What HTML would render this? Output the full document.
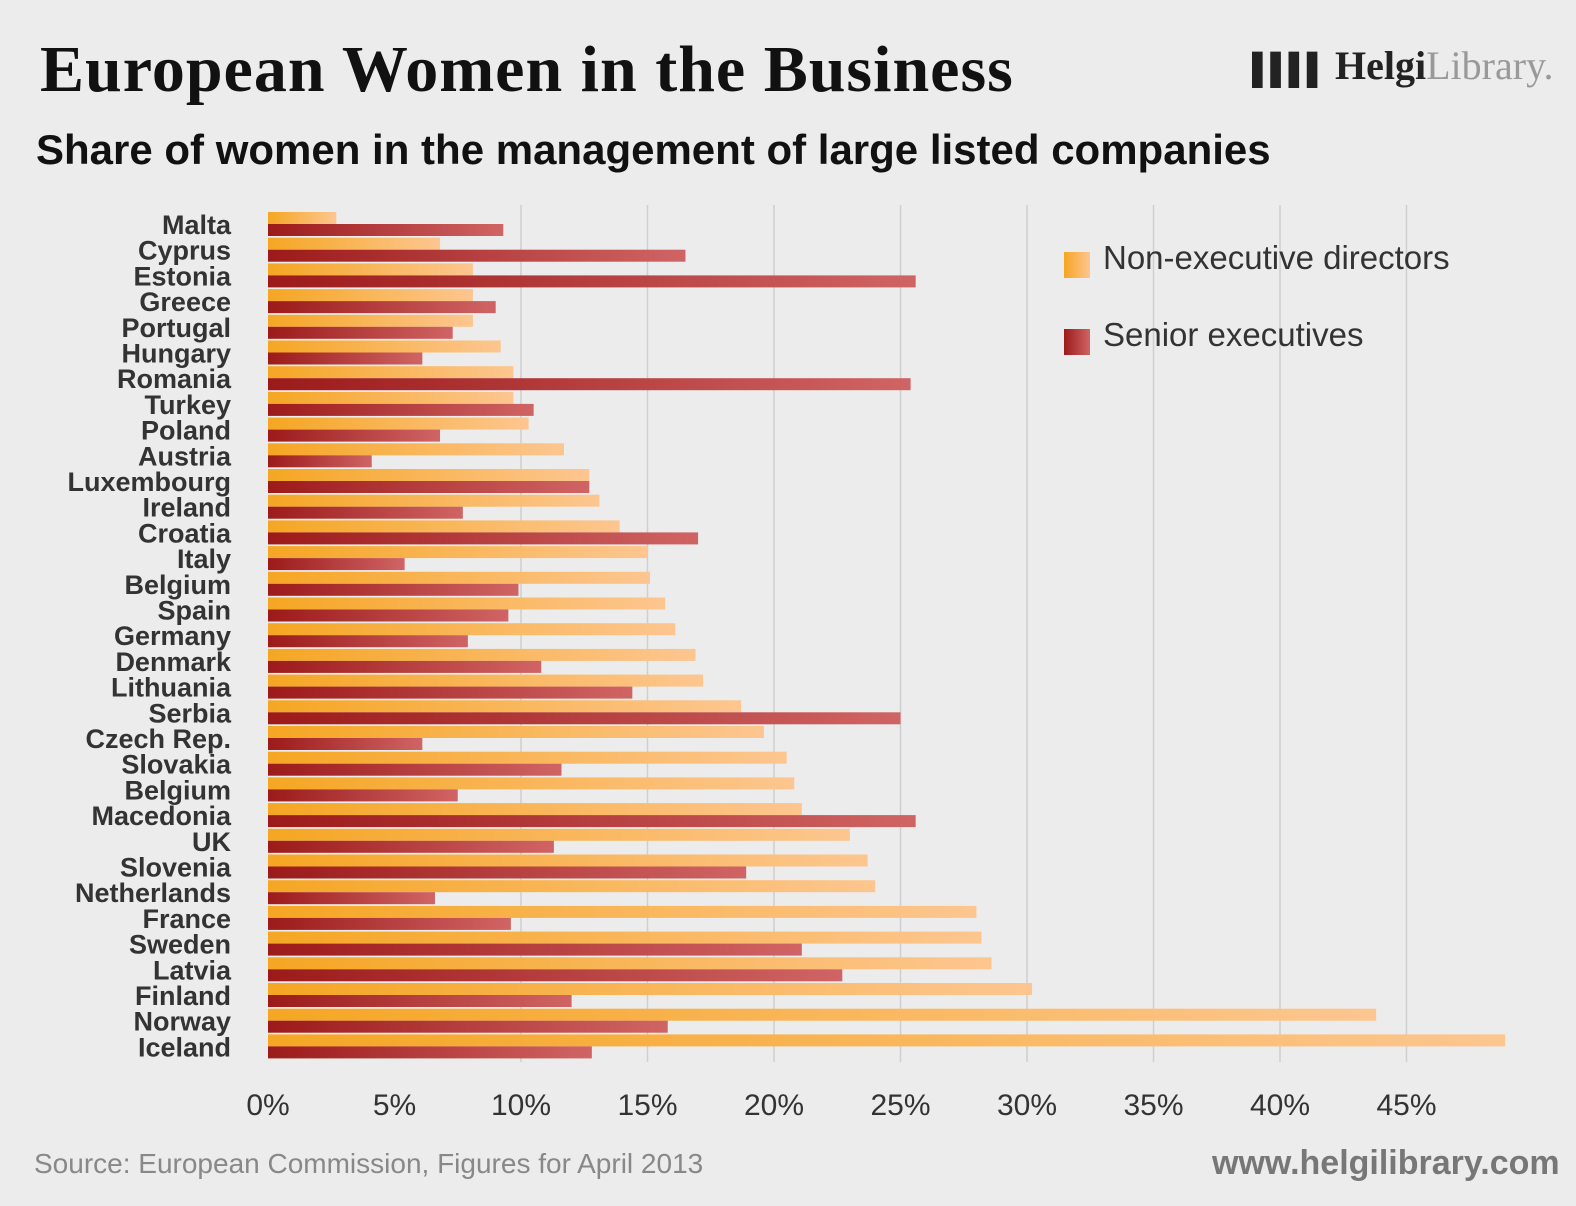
<!DOCTYPE html>
<html><head><meta charset="utf-8">
<style>
body{margin:0;background:#ececec;}
#root{position:relative;width:1576px;height:1206px;background:#ececec;overflow:hidden;font-family:"Liberation Sans",sans-serif;}
.t{position:absolute;white-space:nowrap;}
</style></head>
<body>
<div id="root">
<div class="t" style="left:40px;top:32px;font-family:'Liberation Serif',serif;font-weight:bold;font-size:66px;letter-spacing:1px;color:#111;">European Women in the Business</div>
<div class="t" style="left:36px;top:126px;font-weight:bold;font-size:42px;color:#111;">Share of women in the management of large listed companies</div>
<div class="t" style="left:1252px;top:42px;font-family:'Liberation Serif',serif;font-size:40px;color:#222;"><span style="font-size:30px;letter-spacing:-3px;">▌▌▌▌</span> <b>Helgi</b><span style="color:#999;">Library.</span></div>
<svg id="chart" width="1576" height="1206" style="position:absolute;left:0;top:0;">
<defs>
<linearGradient id="go" x1="0" x2="1"><stop offset="0" stop-color="#f5a623"/><stop offset="1" stop-color="#fdc690"/></linearGradient>
<linearGradient id="gr" x1="0" x2="1"><stop offset="0" stop-color="#9c1a1a"/><stop offset="1" stop-color="#d06464"/></linearGradient>
</defs>
</svg>
<div class="t" style="left:34px;top:1148px;font-size:28px;color:#888;">Source: European Commission, Figures for April 2013</div>
<div class="t" style="left:1212px;top:1144px;font-size:34px;font-weight:bold;color:#777;">www.helgilibrary.com</div>
</div>
<script>
const categories=["Malta","Cyprus","Estonia","Greece","Portugal","Hungary","Romania","Turkey","Poland","Austria","Luxembourg","Ireland","Croatia","Italy","Belgium","Spain","Germany","Denmark","Lithuania","Serbia","Czech Rep.","Slovakia","Belgium","Macedonia","UK","Slovenia","Netherlands","France","Sweden","Latvia","Finland","Norway","Iceland"];
const nonExec=[2.7,6.8,8.1,8.1,8.1,9.2,9.7,9.7,10.3,11.7,12.7,13.1,13.9,15.0,15.1,15.7,16.1,16.9,17.2,18.7,19.6,20.5,20.8,21.1,23.0,23.7,24.0,28.0,28.2,28.6,30.2,43.8,48.9];
const seniorExec=[9.3,16.5,25.6,9.0,7.3,6.1,25.4,10.5,6.8,4.1,12.7,7.7,17.0,5.4,9.9,9.5,7.9,10.8,14.4,25.0,6.1,11.6,7.5,25.6,11.3,18.9,6.6,9.6,21.1,22.7,12.0,15.8,12.8];
const ticks=[0,5,10,15,20,25,30,35,40,45];
const seriesNames=["Non-executive directors","Senior executives"];
const NS="http://www.w3.org/2000/svg";
const svg=document.getElementById('chart');
const x=v=>268+v*25.3;
const y=i=>212+i*25.7;
const bh=12;
function mk(t,a){const e=document.createElementNS(NS,t);for(const k in a)e.setAttribute(k,a[k]);svg.appendChild(e);return e;}
ticks.forEach(t=>{
  if(t>5){const g=mk('line',{x1:x(t),x2:x(t),y1:205,y2:1062,stroke:'#cfcfcf','stroke-width':1.5});
  
  }
  const l=mk('text',{x:x(t),y:1115,'text-anchor':'middle','font-size':30,fill:'#333','font-family':'Liberation Sans, sans-serif'});
  l.textContent=t+'%';
  
  
});
categories.forEach((c,i)=>{
  const a=mk('rect',{x:x(0),y:y(i),width:x(nonExec[i])-x(0),height:bh,fill:'url(#go)'});
  
  
  const b=mk('rect',{x:x(0),y:y(i)+bh,width:x(seniorExec[i])-x(0),height:bh,fill:'url(#gr)'});
  
  
  const l=mk('text',{x:231,y:y(i)+22,'text-anchor':'end','font-size':27,'font-weight':'bold',fill:'#333','font-family':'Liberation Sans, sans-serif'});
  l.textContent=c;
  
  
});
seriesNames.forEach((n,i)=>{
  const r=mk('rect',{x:1064,y:252+i*77,width:26,height:26,fill:i?'url(#gr)':'url(#go)'});
  
  
  const t=mk('text',{x:1103,y:269+i*77,'font-size':33,fill:'#333','font-family':'Liberation Sans, sans-serif'});
  t.textContent=n;
  
  
});
</script>
</body></html>
